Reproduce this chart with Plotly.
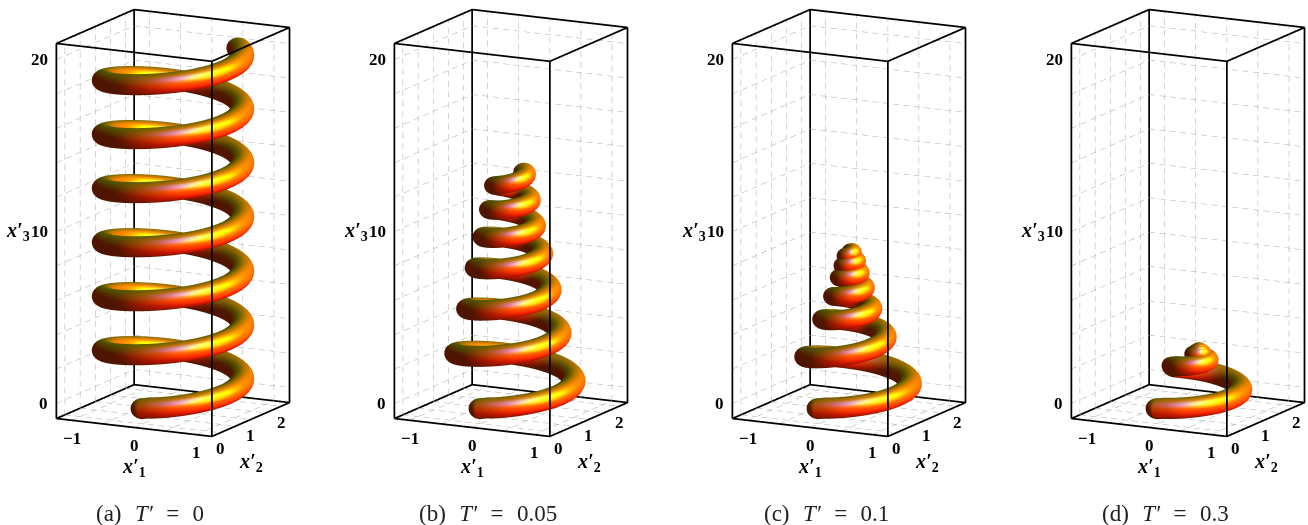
import numpy as np
import plotly.graph_objects as go

# ---- values ----
panel_names = ["(a)", "(b)", "(c)", "(d)"]
T_values = ["0", "0.05", "0.1", "0.3"]
panel_left_px = [0, 338, 676, 1015]

turns_a = [0, 1, 2, 3, 4, 5, 6, 6.37]
radius_a = [1, 1, 1, 1, 1, 1, 1, 1]
height_a = [0, 3.14, 6.28, 9.42, 12.57, 15.71, 18.85, 20.0]
tube_a = [1, 1, 1, 1, 1, 1, 1, 1]
drift_a = [0, 0, 0, 0, 0, 0, 0, 0]

turns_b = [0, .32, .82, 1.32, 1.82, 2.32, 2.82, 3.32, 3.82, 4.32, 4.82, 5.32, 5.82, 6.37]
radius_b = [1, .90, .79, .70, .62, .56, .50, .44, .39, .34, .30, .27, .23, .20]
height_b = [0, .94, 2.4, 3.7, 5.0, 6.2, 7.4, 8.3, 9.2, 9.9, 10.8, 11.4, 12.2, 12.95]
tube_b = [1, 1, 1, 1, .99, .98, .97, .96, .95, .94, .93, .92, .91, .9]
drift_b = [0, 0, 0, 0, 0, 0, 0, 0, 0, 0, 0, 0, 0, 0]

turns_c = [0, .32, .82, 1.32, 1.82, 2.32, 2.82, 3.32, 3.82, 4.32, 4.82, 5.32, 5.82, 6.37]
radius_c = [1, .88, .61, .52, .36, .32, .21, .22, .12, .15, .07, .10, .03, .04]
height_c = [0, .82, 2.2, 3.5, 4.4, 5.1, 5.75, 6.3, 6.85, 7.15, 7.55, 7.85, 8.1, 8.35]
tube_c = [1, 1, 1, .98, .96, .94, .92, .9, .88, .87, .86, .85, .84, .83]
drift_c = [0, 0, 0, 0, 0, 0, 0, 0, 0, 0, 0, 0, 0, 0]

turns_d = [0, .32, .75, .82, 1.32, 1.82, 2.5, 3.5, 6.37]
radius_d = [1, .75, .30, .22, .18, .05, .03, .01, 0]
height_d = [0, .53, 1.55, 1.75, 2.15, 2.45, 2.6, 2.65, 2.7]
tube_d = [1, 1, .96, .95, .9, .85, .8, .78, .76]
drift_d = [0, 0, .04, .05, .12, .17, .18, .18, .18]

x1_ticks = [-1, 0, 1]
x2_ticks = [0, 1, 2]
x3_ticks = [0, 10, 20]
x1_grid = [-1, -.5, 0, .5, 1]
x2_grid = [0, .5, 1, 1.5, 2]
x3_grid = [0, 2, 4, 6, 8, 10, 12, 14, 16, 18, 20]
x1_box = [-1.25, 1.25]
x2_box = [-.28, 2.28]
x3_box = [-.88, 20.94]

TUBE_H = 0.175
TUBE_Z = 0.6
PAD = 0.01     # axis range is a hair wider than the drawn box, so its edges are not clipped

def pad(b):
    d = (b[1]-b[0])*PAD
    return [b[0]-d, b[1]+d]

# ---- view ----
A, B, Z = 175.5, 170.6, 380.7
u, c, e = .889, .457, .224
ASPECT_XY = 1.70*(1+2*PAD)
ASPECT_Z = 1.726*(1+2*PAD)
EYE_DIST = 1.75
Sx, Sy, Sz = A/np.ptp(x1_box), B/np.ptp(x2_box), Z/np.ptp(x3_box)
ce = np.sqrt(1-e*e)
E = np.array([c*ce, -u*ce, e])
R = np.array([u, c, 0.0])
U = np.cross(E, R)

def smooth(v, n=9):
    k = np.ones(n)/n
    p = np.pad(v, n, mode='edge')
    return np.convolve(p, k, mode='same')[n:-n]

def tube_mesh(turns, radius, height, tube, drift):
    t = np.arange(0, turns[-1]*72+1)/72
    r = smooth(np.interp(t, turns, radius))
    z = smooth(np.interp(t, turns, height))
    w = smooth(np.interp(t, turns, tube))
    dx = smooth(np.interp(t, turns, drift))
    r[0], z[0] = radius[0], height[0]
    a = 2*np.pi*t
    phi = np.linspace(0, 2*np.pi, 29)
    cap = np.linspace(np.pi/2, 0, 7, endpoint=False)
    cx, cy = dx+r*np.sin(a), 1-r*np.cos(a)
    rows = []
    def row(i, off, scale):
        tan = np.array([np.cos(a[i]), np.sin(a[i])])
        rho = np.array([np.sin(a[i]), -np.cos(a[i])])
        h = TUBE_H*w[i]
        px = cx[i] + off*tan[0]*h + scale*h*np.cos(phi)*rho[0]
        py = cy[i] + off*tan[1]*h + scale*h*np.cos(phi)*rho[1]
        pz = z[i] + scale*TUBE_Z*w[i]*np.sin(phi)
        rows.append((px, py, pz))
    for th in cap:
        row(0, -np.sin(th), max(np.cos(th), .02))
    for i in range(len(t)):
        row(i, 0, 1)
    for th in cap[::-1]:
        row(len(t)-1, np.sin(th), max(np.cos(th), .02))
    X = np.array([q[0] for q in rows])
    Y = np.array([q[1] for q in rows])
    W = np.array([q[2] for q in rows])
    P = np.stack([X*Sx, Y*Sy, W*Sz], -1)
    d1 = np.gradient(P, axis=0)
    d2 = np.gradient(P, axis=1)
    d2[:, 0] = d2[:, -1] = P[:, 1]-P[:, -2]
    N = np.cross(d1, d2)
    N /= np.linalg.norm(N, axis=-1, keepdims=True)+1e-9
    mid = P.mean(axis=1, keepdims=True)
    sign = np.sign(((P-mid)*N).sum(-1, keepdims=True))
    sign[sign == 0] = 1
    N = N*sign
    nv = np.stack([N@R, N@U, N@E], -1)
    amb = np.array([.312, .188, .4])
    mat = np.array([1.0, .45, 0.0])
    lights = [((1, 0, 1), (1, 0, 0), .7, 30), ((1, 1, 1), (0, 1, 0), 1.0, 20), ((0, 1, 1), (0, 0, 1), .9, 30)]
    col = amb*mat*np.ones(nv.shape)
    for L, C, spec, power in lights:
        L = np.array(L, float); L /= np.linalg.norm(L)
        C = np.array(C, float)
        H = L+np.array([0, 0, 1.0]); H /= np.linalg.norm(H)
        col += np.clip(nv@L, 0, 1)[..., None]*C*mat
        col += spec*np.clip(nv@H, 0, 1)[..., None]**power*C
    col = (np.clip(col, 0, 1)*255).astype(int).reshape(-1, 3)
    vc = [f"rgb({a_},{b_},{c_})" for a_, b_, c_ in col]
    nr, nc = X.shape
    I = np.arange(nr*nc).reshape(nr, nc)
    v00 = I[:-1, :-1].ravel(); v01 = I[:-1, 1:].ravel()
    v10 = I[1:, :-1].ravel(); v11 = I[1:, 1:].ravel()
    return go.Mesh3d(x=X.ravel().round(4), y=Y.ravel().round(4), z=W.ravel().round(4),
                     i=np.r_[v00, v01], j=np.r_[v01, v11], k=np.r_[v10, v10],
                     vertexcolor=vc, flatshading=False, hoverinfo="skip", showscale=False,
                     lighting=dict(ambient=1, diffuse=0, specular=0, fresnel=0))

def polyline(segs, **line):
    xs, ys, zs = [], [], []
    for (p, q) in segs:
        xs += [p[0], q[0], None]; ys += [p[1], q[1], None]; zs += [p[2], q[2], None]
    return go.Scatter3d(x=xs, y=ys, z=zs, mode="lines", line=line, hoverinfo="skip", showlegend=False)

def dashed(segs, on=6.0, off=4.5):
    out = []
    for (p, q) in segs:
        p, q = np.array(p, float), np.array(q, float)
        dw = (q-p)*np.array([Sx, Sy, Sz])
        ln = np.hypot(dw@R, dw@U)
        s = 0.0
        while s < ln:
            out.append((tuple(p+(q-p)*s/ln), tuple(p+(q-p)*min(s+on, ln)/ln)))
            s += on+off
    return out

x0, x9 = x1_box; y0, y9 = x2_box; z0, z9 = x3_box
box = []
for yy in (y0, y9):
    for zz in (z0, z9):
        box.append(((x0, yy, zz), (x9, yy, zz)))
for xx in (x0, x9):
    for zz in (z0, z9):
        box.append(((xx, y0, zz), (xx, y9, zz)))
for xx in (x0, x9):
    for yy in (y0, y9):
        box.append(((xx, yy, z0), (xx, yy, z9)))
grid = []
for v in x1_grid:
    grid.append(((v, y0, z0), (v, y9, z0)))
    grid.append(((v, y9, z0), (v, y9, z9)))
for v in x2_grid:
    grid.append(((x0, v, z0), (x9, v, z0)))
    grid.append(((x0, v, z0), (x0, v, z9)))
for v in x3_grid:
    grid.append(((x0, y0, v), (x0, y9, v)))
    grid.append(((x0, y9, v), (x9, y9, v)))
grid = dashed(grid)

tick_font = dict(family="Liberation Serif", size=17, color="black")
title_font = dict(family="Liberation Serif", size=20, color="black")
def labels():
    out = []
    for v in x1_ticks:
        out.append(dict(x=v, y=y0, z=z0, text=f"<b>{str(v).replace('-', '−')}</b>", showarrow=False,
                        yshift=-18, font=tick_font))
    for v in x2_ticks:
        out.append(dict(x=x9, y=v, z=z0, text=f"<b>{v}</b>", showarrow=False, yshift=-16, font=tick_font))
    for v in x3_ticks:
        out.append(dict(x=x0, y=y0, z=v, text=f"<b>{v}</b>", showarrow=False, xanchor="right", xshift=-6, font=tick_font))
    out.append(dict(x=0, y=y0, z=z0, text="<b><i>x′</i><sub>1</sub></b>", showarrow=False, yshift=-40, font=title_font))
    out.append(dict(x=x9, y=1, z=z0, text="<b><i>x′</i><sub>2</sub></b>", showarrow=False, yshift=-43, font=title_font))
    out.append(dict(x=x0, y=y0, z=10, text="<b><i>x′</i><sub>3</sub></b>", showarrow=False, xanchor="right", xshift=-24, font=title_font))
    return out

series = [(turns_a, radius_a, height_a, tube_a, drift_a), (turns_b, radius_b, height_b, tube_b, drift_b),
          (turns_c, radius_c, height_c, tube_c, drift_c), (turns_d, radius_d, height_d, tube_d, drift_d)]

WIDTH, HEIGHT = 1308, 525
SP = "\u2002\u200a"
fig = go.Figure()
layout = {}
anns = []
for n, (s, left) in enumerate(zip(series, panel_left_px)):
    name = "scene" if n == 0 else f"scene{n+1}"
    for tr in (polyline(grid, color="#aaaaaa", width=1),
               tube_mesh(*s),
               polyline(box, color="black", width=3.5)):
        tr.update(scene=name)
        fig.add_trace(tr)
    ax = dict(visible=False, showgrid=False, showbackground=False, zeroline=False,
              showticklabels=False, showspikes=False, title="")
    cx = left+173
    layout[name] = dict(
        domain=dict(x=[(cx-120)/WIDTH, (cx+120)/WIDTH], y=[79/HEIGHT, 1]),
        xaxis=dict(ax, range=pad(x1_box), tickvals=x1_ticks),
        yaxis=dict(ax, range=pad(x2_box), tickvals=x2_ticks),
        zaxis=dict(ax, range=pad(x3_box), tickvals=x3_ticks),
        aspectmode="manual",
        aspectratio=dict(x=ASPECT_XY*A/Z, y=ASPECT_XY*B/Z, z=ASPECT_Z),
        camera=dict(projection=dict(type="orthographic"), up=dict(x=0, y=0, z=1),
                    center=dict(x=0, y=0, z=0),
                    eye=dict(x=E[0]*EYE_DIST, y=E[1]*EYE_DIST, z=E[2]*EYE_DIST)),
        annotations=labels())
    anns.append(dict(xref="paper", yref="paper", x=(left+150)/WIDTH, y=1-513/HEIGHT, showarrow=False,
                     xanchor="center", yanchor="middle",
                     text=f"{panel_names[n]}{SP}<i>T′</i>{SP}={SP}{T_values[n]}",
                     font=dict(family="Liberation Serif", size=23, color="#222")))

fig.update_layout(width=WIDTH, height=HEIGHT, margin=dict(l=0, r=0, t=0, b=0),
                  paper_bgcolor="white", showlegend=False, annotations=anns, **layout)
fig.write_html("out.html", config=dict(displayModeBar=False),
               post_script="document.body.style.margin='0';window.dispatchEvent(new Event('resize'));")
